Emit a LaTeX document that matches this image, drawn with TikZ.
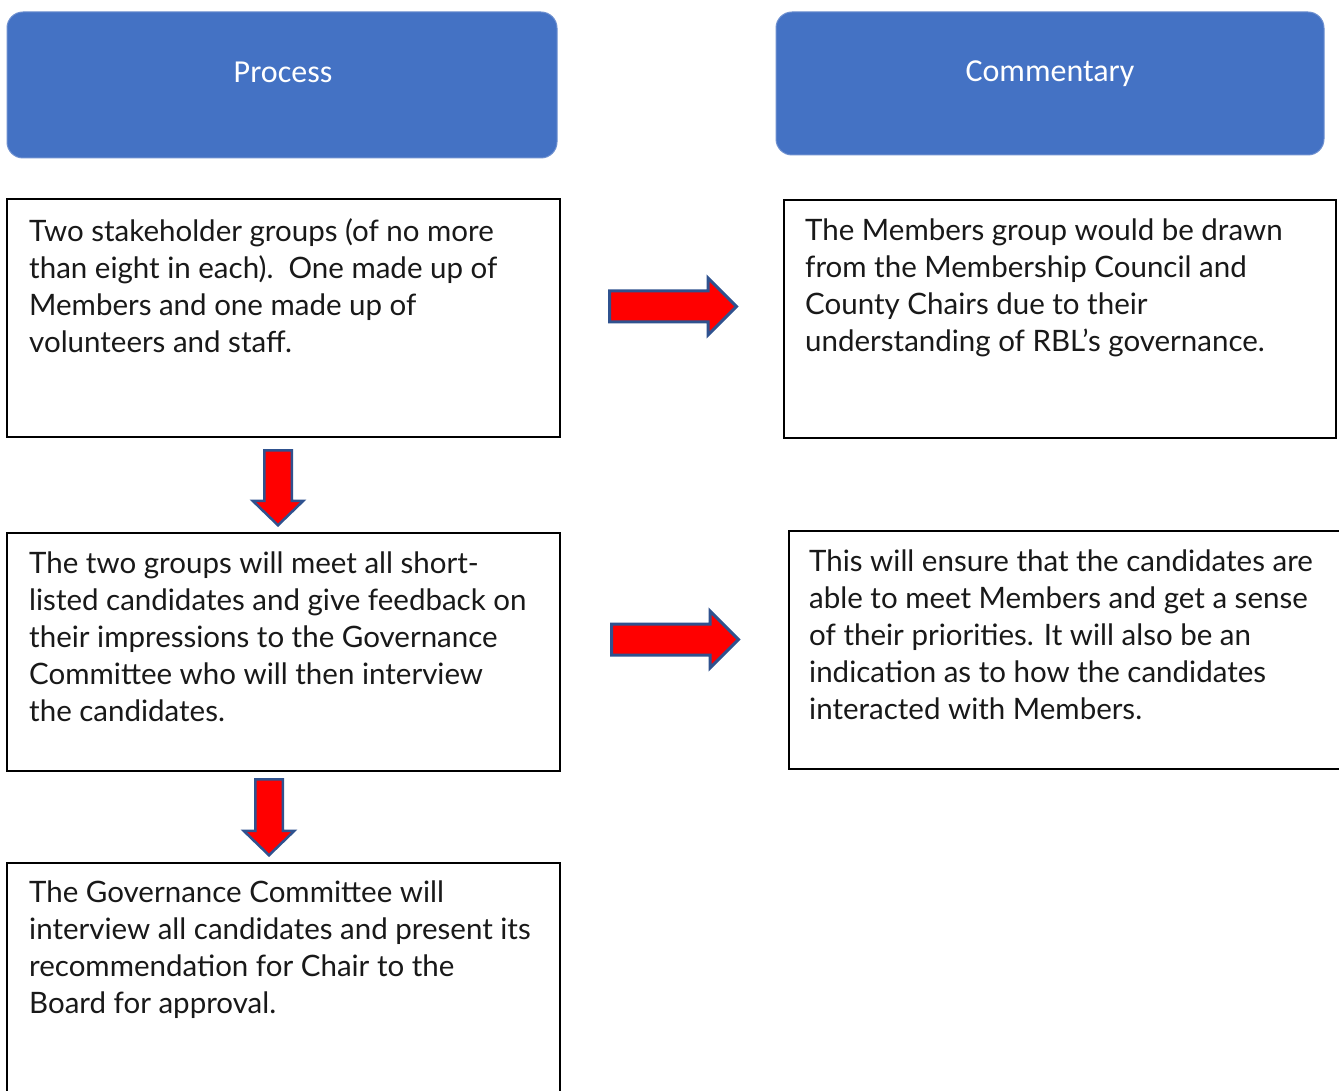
\documentclass[tikz,border=0pt]{standalone}
\usepackage{fontspec}
\setmainfont{Lato}
\newfontfamily\headfont{Carlito}
\usetikzlibrary{shapes.arrows}
\definecolor{hdrblue}{HTML}{4472C4}
\definecolor{hdredge}{HTML}{6E90D0}
\definecolor{arrowedge}{HTML}{2F528F}
\definecolor{arrowred}{HTML}{FF0000}
\begin{document}
\begin{tikzpicture}[x=1pt,y=-1pt,
  header/.style={draw=hdredge, fill=hdrblue, rounded corners=16pt, line width=1pt, inner sep=0pt},
  headtext/.style={text=white, font={\headfont\fontsize{32}{37}\selectfont}, inner sep=0pt, anchor=base},
  box/.style={draw=black, line width=2pt, inner sep=0pt},
  txt/.style={anchor=north west, align=left, inner sep=0pt, text=black!90, font={\fontsize{29.5}{37}\selectfont}},
  rarrow/.style={single arrow, draw=arrowedge, fill=arrowred, line width=3pt, inner sep=14pt,
     minimum height=127pt, single arrow head extend=13pt, single arrow tip angle=90, anchor=tail, line join=miter},
  darrow/.style={single arrow, draw=arrowedge, fill=arrowred, line width=2.5pt, inner sep=12.5pt,
     minimum height=75pt, single arrow head extend=11.5pt, single arrow tip angle=92, shape border rotate=270, anchor=tail}
]
\useasboundingbox (0,0) rectangle (1339,1091);
\clip (0,0) rectangle (1339,1091);
\fill[white] (0,0) rectangle (1339,1091);

% headers
\node[header, minimum width=550pt, minimum height=146pt] (hp) at (282,85) {};
\node[header, minimum width=548pt, minimum height=143pt] (hc) at (1050,83.5) {};
\node[headtext] (hpt) at (283,83) {Process};
\node[headtext] (hct) at (1050,82) {Commentary};

% boxes
\node[box, minimum width=553pt, minimum height=238pt] (ba) at (283.5,318) {};
\node[box, minimum width=552pt, minimum height=238pt] (bb) at (1060,319) {};
\node[box, minimum width=553pt, minimum height=238pt] (bc) at (283.5,652) {};
\node[box, minimum width=560pt, minimum height=238pt] (bd) at (1069,650) {};
\node[box, minimum width=553pt, minimum height=240pt] (be) at (283.5,983) {};

% texts
\node[txt] (ta) at (29,218) {Two stakeholder groups (of no more\\than eight in each).~~One made up of\\Members and one made up of\\volunteers and staff.};
\node[txt] (tb) at (805,219) {The Members group would be drawn\\from the Membership Council and\\County Chairs due to their\\understanding of RBL’s governance.};
\node[txt] (tc) at (29,552) {The two groups will meet all short-\\listed candidates and give feedback on\\their impressions to the Governance\\Committee who will then interview\\the candidates.};
\node[txt] (td) at (809,550) {This will ensure that the candidates are\\able to meet Members and get a sense\\of their priorities. It will also be an\\indication as to how the candidates\\interacted with Members.};
\node[txt] (te) at (29,881) {The Governance Committee will\\interview all candidates and present its\\recommendation for Chair to the\\Board for approval.};

% arrows
\node[rarrow] (ra1) at (608,306.5) {};
\node[rarrow] (ra2) at (610,639.5) {};
\node[darrow] (da1) at (278,449) {};
\node[darrow, minimum height=76pt] (da2) at (269,778) {};
\end{tikzpicture}
\end{document}
